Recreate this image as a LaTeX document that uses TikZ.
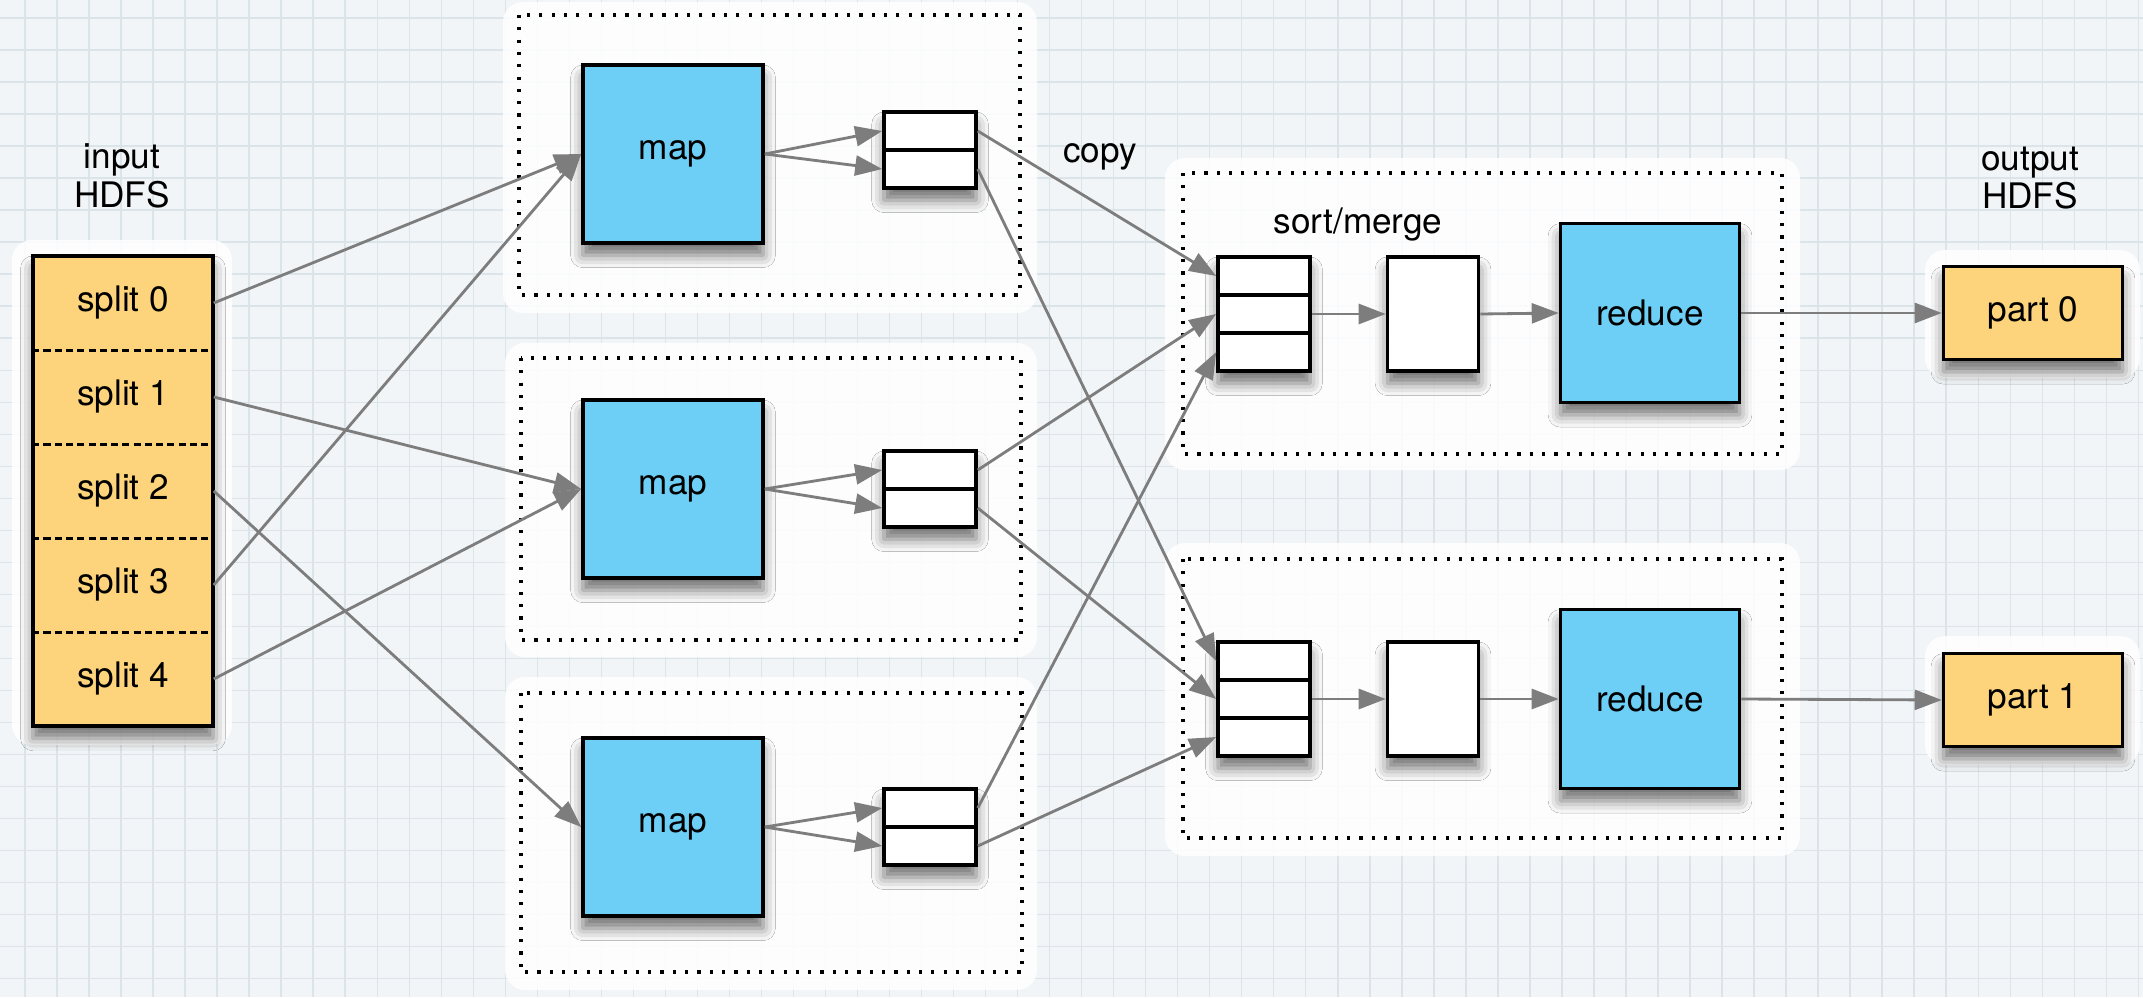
\documentclass[tikz,border=0pt]{standalone}
\usepackage{fontspec}
\setmainfont{TeX Gyre Heros}
\usetikzlibrary{arrows.meta,shadows.blur}

\definecolor{mapblue}{RGB}{109,207,246}
\definecolor{splityellow}{RGB}{253,211,123}
\definecolor{paper}{RGB}{242,245,247}
\definecolor{gridline}{RGB}{218,228,233}
\definecolor{arrowgray}{RGB}{125,125,125}

\begin{document}
\begin{tikzpicture}[x=0.01cm,y=-0.01cm,font=\fontsize{10}{11}\selectfont]
  \tikzset{flow/.style={draw=arrowgray, line width=0.8pt,
      -{Triangle[length=0.27cm,width=0.2cm]}},
    shadowbox/.style={draw=black, line width=1pt, inner sep=0pt,
      blur shadow={shadow xshift=0pt, shadow yshift=-3.5pt,
        shadow opacity=55, shadow blur radius=3.5pt}},
    task/.style={shadowbox, fill=mapblue, minimum width=1.8cm,
      minimum height=1.78cm},
    cell/.style={draw=black, line width=1pt, fill=white, inner sep=0pt,
      minimum width=0.92cm, minimum height=0.38cm},
    splitcell/.style={inner sep=0pt, minimum width=1.8cm,
      minimum height=0.94cm},
    divider/.style={line width=0.8pt, dash pattern=on 2pt off 1.2pt},
    groupframe/.style={line width=0.9pt, dash pattern=on 0.9pt off 2.6pt},
    halo/.style={fill=white, opacity=0.85, rounded corners=0.2cm}}
  \useasboundingbox (0,0) rectangle (2143,997);
  % paper
  \fill[paper] (0,0) rectangle (2143,997);
  \draw[gridline, line width=0.4pt, shift={(25,18)}] (-25,-18)
    grid[step=0.32cm] (2118,979);
  \fill[halo] (12,240) rectangle (232,745);
  \fill[halo] (503,2) rectangle (1037,313);
  \fill[halo] (505,343) rectangle (1037,657);
  \fill[halo] (505,677) rectangle (1037,990);
  \fill[halo] (1165,158) rectangle (1800,470);
  \fill[halo] (1165,543) rectangle (1800,856);
  \fill[halo] (1925,250) rectangle (2140,378);
  \fill[halo] (1925,636) rectangle (2140,765);
  \draw[groupframe] (519,15) rectangle (1020,295);
  \draw[groupframe] (521,358) rectangle (1021,640);
  \draw[groupframe] (521,693) rectangle (1022,972);
  \draw[groupframe] (1183,173) rectangle (1782,454);
  \draw[groupframe] (1183,559) rectangle (1782,838);

  % input splits
  \node[align=center] (inlbl) at (122,176) {input\\HDFS};
  \node[shadowbox, fill=splityellow, minimum width=1.8cm,
    minimum height=4.7cm] (splits) at (123,491) {};
  \node[splitcell] (s0) at (123,303) {split 0};
  \node[splitcell] (s1) at (123,397) {split 1};
  \node[splitcell] (s2) at (123,491) {split 2};
  \node[splitcell] (s3) at (123,585) {split 3};
  \node[splitcell] (s4) at (123,679) {split 4};
  \draw[divider] (s0.south west) -- (s0.south east);
  \draw[divider] (s1.south west) -- (s1.south east);
  \draw[divider] (s2.south west) -- (s2.south east);
  \draw[divider] (s3.south west) -- (s3.south east);

  % map side
  \node[task] (map1) at (673,154) {map};
  \node[task] (map2) at (673,489) {map};
  \node[task] (map3) at (673,827) {map};
  \node[shadowbox, minimum width=0.92cm, minimum height=0.76cm] (buf1) at (930,150) {};
  \node[cell] (b1a) at (930,131) {};
  \node[cell] (b1b) at (930,169) {};
  \node[shadowbox, minimum width=0.92cm, minimum height=0.76cm] (buf2) at (930,489) {};
  \node[cell] (b2a) at (930,470) {};
  \node[cell] (b2b) at (930,508) {};
  \node[shadowbox, minimum width=0.92cm, minimum height=0.76cm] (buf3) at (930,827) {};
  \node[cell] (b3a) at (930,808) {};
  \node[cell] (b3b) at (930,846) {};

  % reduce side
  \node (copylbl) at (1100,157) {copy};
  \node (sortlbl) at (1358,225) {sort/merge};
  \node[align=center] (outlbl) at (2030,178) {output\\HDFS};
  \node[shadowbox, minimum width=0.92cm, minimum height=1.14cm] (sort1) at (1264,314) {};
  \node[cell] (m1a) at (1264,276) {};
  \node[cell] (m1b) at (1264,314) {};
  \node[cell] (m1c) at (1264,352) {};
  \node[shadowbox, fill=white, minimum width=0.91cm,
    minimum height=1.14cm] (merge1) at (1433,314) {};
  \node[task, minimum width=1.79cm, minimum height=1.79cm] (red1) at (1650,313) {reduce};
  \node[shadowbox, fill=splityellow, minimum width=1.79cm,
    minimum height=0.93cm] (part0) at (2033,313) {part 0};
  \node[shadowbox, minimum width=0.92cm, minimum height=1.14cm] (sort2) at (1264,699) {};
  \node[cell] (m2a) at (1264,661) {};
  \node[cell] (m2b) at (1264,699) {};
  \node[cell] (m2c) at (1264,737) {};
  \node[shadowbox, fill=white, minimum width=0.91cm,
    minimum height=1.14cm] (merge2) at (1433,699) {};
  \node[task, minimum width=1.79cm, minimum height=1.79cm] (red2) at (1650,699) {reduce};
  \node[shadowbox, fill=splityellow, minimum width=1.79cm,
    minimum height=0.93cm] (part1) at (2033,700) {part 1};

  % connectors
  \draw[flow] (s0.east) -- (map1.west);
  \draw[flow] (s3.east) -- (map1.west);
  \draw[flow] (s1.east) -- (map2.west);
  \draw[flow] (s4.east) -- (map2.west);
  \draw[flow] (s2.east) -- (map3.west);
  \draw[flow] (map1.east) -- (b1a.west);
  \draw[flow] (map1.east) -- (b1b.west);
  \draw[flow] (map2.east) -- (b2a.west);
  \draw[flow] (map2.east) -- (b2b.west);
  \draw[flow] (map3.east) -- (b3a.west);
  \draw[flow] (map3.east) -- (b3b.west);
  \draw[flow] (b1a.east) -- (m1a.west);
  \draw[flow] (b1b.east) -- (m2a.west);
  \draw[flow] (b2a.east) -- (m1b.west);
  \draw[flow] (b2b.east) -- (m2b.west);
  \draw[flow] (b3a.east) -- (m1c.west);
  \draw[flow] (b3b.east) -- (m2c.west);
  \draw[flow] (m1b.east) -- (merge1.west);
  \draw[flow] (merge1.east) -- (red1.west);
  \draw[flow] (red1.east) -- (part0.west);
  \draw[flow] (m2b.east) -- (merge2.west);
  \draw[flow] (merge2.east) -- (red2.west);
  \draw[flow] (red2.east) -- (part1.west);
\end{tikzpicture}
\end{document}
